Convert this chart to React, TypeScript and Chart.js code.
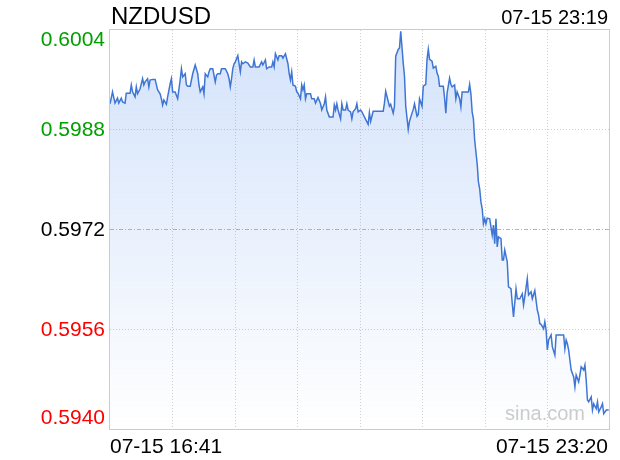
import React, { useEffect, useRef } from "react";
import { Chart, registerables } from "chart.js";

Chart.register(...registerables);

const symbol = "NZDUSD";
const lastTime = "07-15 23:19";
const xTickLabels = ["07-15 16:41", "07-15 23:20"];
const xMax = 399;
const xGridCount = 8;
const yTicks = [0.594, 0.5956, 0.5972, 0.5988, 0.6004];
const yTickColors = ["#ff0000", "#ff0000", "#000000", "#00a000", "#00a000"];
const prevClose = 0.5972;
const watermark = "sina.com";

// minutes since 16:41
const minutes = [
  0, 1, 2, 4, 6, 7, 9, 10, 12, 13, 16, 17, 18, 20, 21, 22, 24, 25, 26, 27, 28, 30, 31, 32, 34, 36, 38, 40, 41, 42, 43, 45, 46, 48, 49, 50, 52, 54, 56, 57, 58, 60, 61, 62, 64, 66,
  68, 70, 71, 72, 74, 75, 76, 78, 79, 80, 82, 84, 85, 86, 88, 89, 92, 94, 95, 96, 97, 98, 99, 100, 102, 103, 104, 105, 106, 108, 110, 112, 114, 115, 116, 119, 121, 122, 124, 125, 127, 129, 130, 131, 132, 134, 135, 137, 138, 140,
  142, 143, 144, 145, 146, 148, 149, 150, 152, 153, 154, 155, 156, 157, 160, 161, 163, 164, 166, 168, 169, 171, 172, 173, 175, 178, 179, 180, 181, 182, 184, 185, 186, 188, 189, 190, 192, 193, 194, 196, 197, 198, 200, 201, 203,
  204, 206, 207, 208, 210, 218, 219, 220, 222, 223, 224, 226, 227, 228, 230, 231, 232, 234, 235, 236, 238, 239, 241, 242, 243, 245, 246, 247, 249, 250, 252, 253, 254, 255, 257, 258, 260, 261, 262, 263, 266, 267, 268, 269, 271, 272, 273, 275, 276, 277, 279, 280, 281, 286, 287, 288, 289, 290, 291, 293, 294, 295, 296, 297, 298, 299, 300, 301, 303, 305, 306, 307, 308, 309, 310, 312, 313, 314, 315, 317, 318, 320, 321, 322, 324, 325, 327, 329, 330, 331, 333, 334, 336, 337, 339, 341, 342, 343, 344, 346, 347, 348, 349, 350, 352, 353, 355, 356, 362, 363, 364, 365, 366, 368, 370, 371, 372, 374, 375, 376, 378, 379, 380, 381, 382, 384, 385, 386, 388, 389, 390, 392, 393, 394, 396, 398,
];

const prices = [
  0.59922, 0.59931, 0.59941, 0.59923, 0.59931, 0.59923, 0.59931, 0.59925, 0.59923, 0.59939, 0.59939, 0.59952, 0.59941, 0.59933, 0.59949, 0.59938, 0.59946, 0.59954, 0.59962, 0.59952, 0.59957, 0.59962, 0.59949, 0.5996, 0.59961, 0.59961, 0.59944, 0.59938, 0.5993, 0.5992, 0.59928, 0.59921, 0.59933, 0.59954, 0.59962, 0.59941, 0.59941, 0.5993, 0.5996, 0.59978, 0.59965, 0.5997, 0.59952, 0.5995, 0.5995, 0.5997,
  0.59984, 0.5997, 0.59952, 0.59941, 0.59949, 0.59938, 0.5997, 0.59965, 0.59973, 0.59978, 0.59978, 0.59957, 0.59968, 0.5997, 0.5997, 0.59978, 0.59978, 0.5997, 0.59962, 0.59949, 0.59962, 0.59978, 0.59986, 0.59989, 0.59999, 0.59986, 0.59973, 0.59989, 0.59986, 0.59989, 0.59987, 0.59981, 0.59981, 0.59992, 0.59981, 0.59981, 0.59989, 0.59984, 0.59992, 0.59978, 0.59981, 0.59981, 0.59989, 0.59981, 0.60002, 0.59992, 0.59999, 0.59999, 0.59995, 0.60002,
  0.59986, 0.5997, 0.5996, 0.59973, 0.59952, 0.5995, 0.59941, 0.59939, 0.5993, 0.59952, 0.59944, 0.59952, 0.5993, 0.59938, 0.59938, 0.5993, 0.5993, 0.59923, 0.59932, 0.59922, 0.59912, 0.59922, 0.59933, 0.59912, 0.59901, 0.59901, 0.5992, 0.59912, 0.59922, 0.59912, 0.59898, 0.59922, 0.59912, 0.59912, 0.59922, 0.59912, 0.59909, 0.59898, 0.59909, 0.59914, 0.59922, 0.59909, 0.59912, 0.59909, 0.59901,
  0.59897, 0.59889, 0.59908, 0.59894, 0.5991, 0.5991, 0.59923, 0.59942, 0.59926, 0.59918, 0.59921, 0.59907, 0.59918, 0.59998, 0.60009, 0.60011, 0.60038, 0.59987, 0.59966, 0.59918, 0.59881, 0.59894, 0.59907, 0.59913, 0.59922, 0.59902, 0.59905, 0.5993, 0.59918, 0.5995, 0.59953, 0.59993, 0.60009, 0.59993, 0.5999, 0.59979, 0.59982, 0.59971, 0.59966, 0.5995, 0.5995, 0.59931, 0.59907, 0.59939, 0.59963, 0.59953, 0.59949, 0.59952, 0.5993, 0.59941, 0.5993, 0.59917, 0.59941, 0.59941, 0.59953, 0.59938, 0.59909, 0.59898, 0.59864, 0.59826, 0.59797, 0.59786, 0.59765, 0.59754, 0.5973, 0.59738, 0.5973, 0.59739, 0.59738, 0.59712, 0.59728, 0.59698, 0.59738, 0.59693, 0.59709, 0.59706, 0.59672, 0.59672, 0.59688, 0.59669, 0.59629, 0.59626, 0.59602, 0.59581, 0.59626, 0.5961, 0.5961, 0.59618, 0.596, 0.59613, 0.59642, 0.59616, 0.59621, 0.5961, 0.59623, 0.59592, 0.59584, 0.5957, 0.59569, 0.59562, 0.59573, 0.5956, 0.59528, 0.59544, 0.59552, 0.59533, 0.5952, 0.59552, 0.59552, 0.5953, 0.59544, 0.59538, 0.59528, 0.59496, 0.59485, 0.59469, 0.59488, 0.59477, 0.59488, 0.59501, 0.59496, 0.59504, 0.5948, 0.59448, 0.59445, 0.59453, 0.59432, 0.59442, 0.59434, 0.59445, 0.59429, 0.59437, 0.59442, 0.59426, 0.59432, 0.59432,
];

const FONT = '"Liberation Sans", Arial, Helvetica, sans-serif';

const overlayPlugin = {
  id: "sinaOverlay",
  beforeDatasetsDraw(chart: any) {
    const { ctx, chartArea: a, scales } = chart;
    const xs = scales.x;
    const ys = scales.y;
    ctx.save();
    // watermark
    ctx.font = `20px ${FONT}`;
    ctx.fillStyle = "#cccccc";
    ctx.textAlign = "right";
    ctx.textBaseline = "alphabetic";
    ctx.fillText(watermark, a.right - 25, a.bottom - 10);
    // vertical grid
    ctx.lineWidth = 1;
    ctx.strokeStyle = "#cfcfcf";
    ctx.setLineDash([1, 2]);
    for (let i = 1; i < xGridCount; i++) {
      const px = Math.floor(xs.getPixelForValue((xMax * i) / xGridCount)) + 0.5;
      ctx.beginPath();
      ctx.moveTo(px, a.top);
      ctx.lineTo(px, a.bottom);
      ctx.stroke();
    }
    // horizontal grid
    yTicks.forEach((v, i) => {
      if (i === 0 || i === yTicks.length - 1) return;
      const py = Math.round(ys.getPixelForValue(v)) - 0.5;
      if (v === prevClose) {
        ctx.strokeStyle = "#b4b4b4";
        ctx.setLineDash([4, 2, 1, 2]);
      } else {
        ctx.strokeStyle = "#cfcfcf";
        ctx.setLineDash([1, 2]);
      }
      ctx.beginPath();
      ctx.moveTo(a.left, py);
      ctx.lineTo(a.right, py);
      ctx.stroke();
    });
    ctx.restore();
  },
  afterDraw(chart: any) {
    const { ctx, chartArea: a, scales } = chart;
    const ys = scales.y;
    ctx.save();
    // border
    ctx.strokeStyle = "#cccccc";
    ctx.lineWidth = 1;
    ctx.setLineDash([]);
    ctx.strokeRect(a.left - 0.5, a.top - 0.5, a.right - a.left, a.bottom - a.top);
    // y labels
    ctx.font = `21px ${FONT}`;
    ctx.textAlign = "right";
    ctx.textBaseline = "alphabetic";
    yTicks.forEach((v, i) => {
      const p = ys.getPixelForValue(v);
      let off = 5.8;
      if (i === yTicks.length - 1) off = 16;
      if (i === 0) off = -6.5;
      ctx.fillStyle = yTickColors[i];
      ctx.fillText(v.toFixed(4), a.left - 5, p + off);
    });
    // x labels
    ctx.fillStyle = "#000000";
    ctx.textAlign = "left";
    ctx.fillText(xTickLabels[0], a.left, a.bottom + 23);
    ctx.textAlign = "right";
    ctx.fillText(xTickLabels[1], a.right - 2, a.bottom + 23);
    // header
    ctx.font = `20px ${FONT}`;
    ctx.fillText(lastTime, a.right - 2, 24);
    ctx.textAlign = "left";
    ctx.font = `24px ${FONT}`;
    ctx.fillText(symbol, a.left + 1, 24);
    ctx.restore();
  },
};

export default function App() {
  const ref = useRef<HTMLCanvasElement | null>(null);
  useEffect(() => {
    if (!ref.current) return;
    const data = minutes.map((m, i) => ({ x: m, y: prices[i] }));
    const chart = new Chart(ref.current, {
      type: "line",
      data: {
        datasets: [
          {
            data,
            borderColor: "#3f76d4",
            borderWidth: 1.5,
            pointRadius: 0,
            tension: 0,
            fill: "start",
            backgroundColor: (c: any) => {
              const ch = c.chart;
              const a = ch.chartArea;
              if (!a) return "rgba(110,160,240,0.25)";
              const g = ch.ctx.createLinearGradient(0, a.top, 0, a.bottom);
              g.addColorStop(0, "rgba(110,160,240,0.30)");
              g.addColorStop(1, "rgba(110,160,240,0)");
              return g;
            },
          },
        ],
      },
      options: {
        animation: false,
        responsive: false,
        events: [],
        layout: { padding: { left: 110, right: 10, top: 30, bottom: 30 } },
        plugins: { legend: { display: false }, tooltip: { enabled: false }, title: { display: false } },
        scales: {
          x: { type: "linear", min: 0, max: xMax, display: false },
          y: { type: "linear", min: yTicks[0], max: yTicks[yTicks.length - 1], display: false },
        },
      },
      plugins: [overlayPlugin],
    });
    return () => chart.destroy();
  }, []);
  return (
    <div style={{ position: "fixed", left: 0, top: 0, width: 620, height: 460, background: "#fff" }}>
      <canvas ref={ref} width={620} height={460} />
    </div>
  );
}
